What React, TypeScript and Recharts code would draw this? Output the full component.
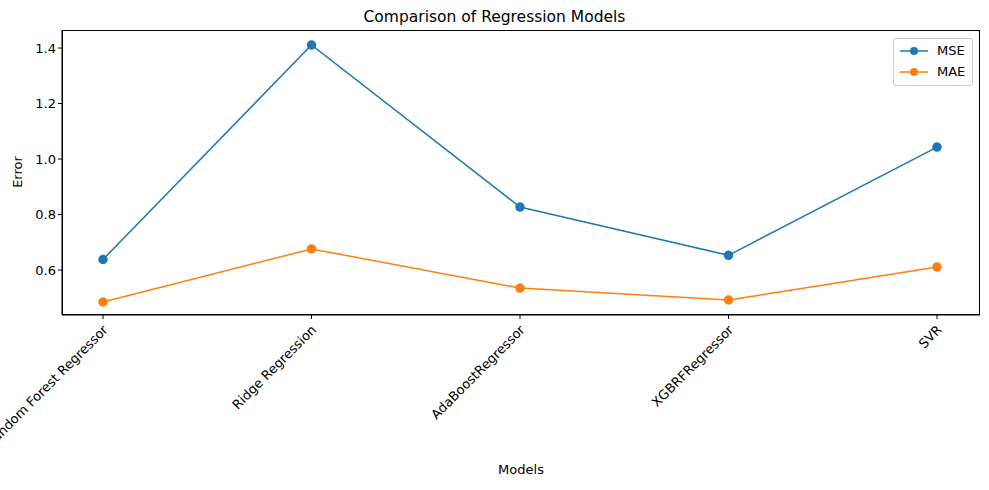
import { LineChart, Line, XAxis, YAxis } from "recharts";

const models = ["Random Forest Regressor", "Ridge Regression", "AdaBoostRegressor", "XGBRFRegressor", "SVR"];
const mse = [0.638, 1.411, 0.827, 0.653, 1.043];
const mae = [0.485, 0.676, 0.535, 0.492, 0.611];
const yTicks = [0.6, 0.8, 1.0, 1.2, 1.4];

const data = models.map((m, i) => ({ model: m, MSE: mse[i], MAE: mae[i] }));

const font = "DejaVu Sans, sans-serif";

function RotTick(props: any) {
  const { x, y, payload } = props;
  return (
    <g transform={`translate(${x},${y + 4})`}>
      <text transform="rotate(-45)" textAnchor="end" dy={8} fontSize={13} fill="#000" fontFamily={font}>
        {payload.value}
      </text>
    </g>
  );
}

export default function App() {
  return (
    <div style={{ position: "absolute", top: 0, left: 0, width: 989, height: 490, background: "#fff", fontFamily: font }}>
      <LineChart width={989} height={490} data={data} margin={{ top: 30, right: 9, bottom: 0, left: 0 }}>
        <XAxis
          dataKey="model"
          padding={{ left: 41, right: 43 }}
          tick={<RotTick />}
          tickLine={{ stroke: "#000" }}
          axisLine={{ stroke: "#000" }}
          tickSize={4}
          interval={0}
          height={175}
        />
        <YAxis
          width={62}
          domain={[0.438, 1.465]}
          ticks={yTicks}
          tickFormatter={(v) => v.toFixed(1)}
          tick={{ fontSize: 13, fill: "#000", fontFamily: font }}
          tickLine={{ stroke: "#000" }}
          axisLine={{ stroke: "#000" }}
          tickSize={4}
        />
        <Line dataKey="MSE" stroke="#1f77b4" strokeWidth={1.5} dot={{ r: 4, fill: "#1f77b4", stroke: "#1f77b4" }} isAnimationActive={false} />
        <Line dataKey="MAE" stroke="#ff7f0e" strokeWidth={1.5} dot={{ r: 4, fill: "#ff7f0e", stroke: "#ff7f0e" }} isAnimationActive={false} />
      </LineChart>
      <div style={{ position: "absolute", left: 62, top: 30, width: 918, height: 285, border: "1px solid #000", boxSizing: "border-box", pointerEvents: "none" }} />
      <div style={{ position: "absolute", top: 8, left: 0, width: 989, textAlign: "center", fontSize: 15.5 }}>Comparison of Regression Models</div>
      <div style={{ position: "absolute", top: 462, left: 62, width: 918, textAlign: "center", fontSize: 13 }}>Models</div>
      <div style={{ position: "absolute", left: 17, top: 172, fontSize: 13, transform: "translate(-50%,-50%) rotate(-90deg)" }}>Error</div>
      <div style={{ position: "absolute", left: 893, top: 38, width: 80, height: 48, border: "1px solid #ccc", borderRadius: 3, boxSizing: "border-box", background: "#fff", fontSize: 13 }}>
        {[["MSE", "#1f77b4"], ["MAE", "#ff7f0e"]].map(([n, c], i) => (
          <div key={n} style={{ position: "absolute", left: 6, top: 4 + i * 21, display: "flex", alignItems: "center" }}>
            <svg width={28} height={14}>
              <line x1={0} y1={7} x2={28} y2={7} stroke={c} strokeWidth={1.5} />
              <circle cx={14} cy={7} r={4} fill={c} />
            </svg>
            <span style={{ marginLeft: 9 }}>{n}</span>
          </div>
        ))}
      </div>
    </div>
  );
}
